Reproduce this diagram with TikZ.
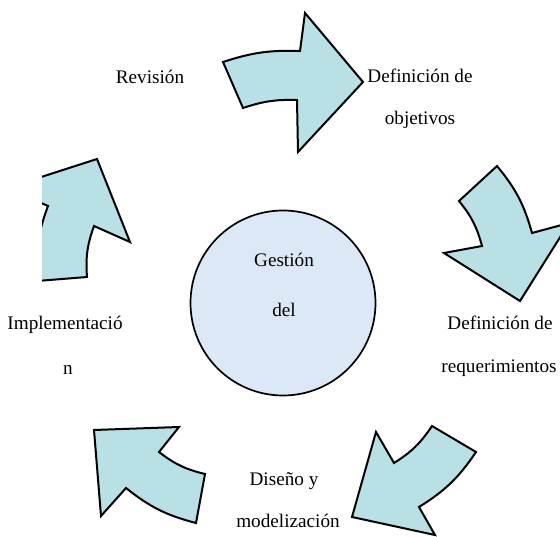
\documentclass[tikz,border=0pt]{standalone}
\usepackage{fontspec}
\setmainfont{Liberation Serif}
\usepackage{tikz}
\definecolor{arrowfill}{RGB}{185,224,228}
\definecolor{hubfill}{RGB}{220,232,245}

\begin{document}
\begin{tikzpicture}[x=1pt,y=1pt,
    cyclearrow/.style={draw=black,line width=2pt,fill=arrowfill,line join=miter},
    lbl/.style={font=\fontsize{19.2}{23}\selectfont,inner sep=0pt,anchor=base}]
      %page frame, same size as the reference
    \useasboundingbox (0,0) rectangle (560,536);
      %the five curved arrows, clockwise from the top
    \draw[cyclearrow] (223,474) to[bend left=10] (300,485) -- (305,523) -- (363,454)
          -- (298,384) -- (297,436) to[bend right=10] (243,428) -- cycle;
    \draw[cyclearrow] (497,370) to[bend left=12] (532,303) -- (569,313) -- (520,235)
          -- (444,283) -- (482,290) to[bend right=12] (459,335) -- cycle;
    \draw[cyclearrow] (432,110) to[bend left=12] (394,73) -- (376,104) -- (352,19)
          -- (435,1) -- (419,29) to[bend right=12] (476,84) -- cycle;
    \draw[cyclearrow] (205,62) to[bend left=12] (159,84) -- (179,109) -- (94,106)
          -- (101,20) -- (126,48) to[bend right=12] (196,13) -- cycle;
    \begin{scope}
      \clip (42,0) rectangle (560,536);
      \draw[cyclearrow] (37,255) to[bend left=12] (48,330) -- (7,348) -- (97,377)
            -- (130,294) -- (94,310) to[bend right=12] (87,259) -- cycle;
    \end{scope}
      %centre circle
    \node[draw,circle,fill=hubfill,line width=1.7pt,minimum size=185pt,inner sep=0pt] (hub) at (283,233) {};
    \node[lbl] (gestion) at (284,269) {Gestión};
    \node[lbl] (del) at (284,219) {del};
      %labels round the cycle
    \node[lbl] (revision) at (150,452) {Revisión};
    \node[lbl] (objA) at (420,453) {Definición de};
    \node[lbl] (objB) at (420,411) {objetivos};
    \node[lbl] (reqA) at (500,206) {Definición de};
    \node[lbl] (reqB) at (499,163) {requerimientos};
    \node[lbl] (disA) at (284,50) {Diseño y};
    \node[lbl] (disB) at (288,9) {modelización};
    \node[lbl] (impA) at (65,206) {Implementació};
    \node[lbl] (impB) at (68,161) {n};
\end{tikzpicture}
\end{document}
